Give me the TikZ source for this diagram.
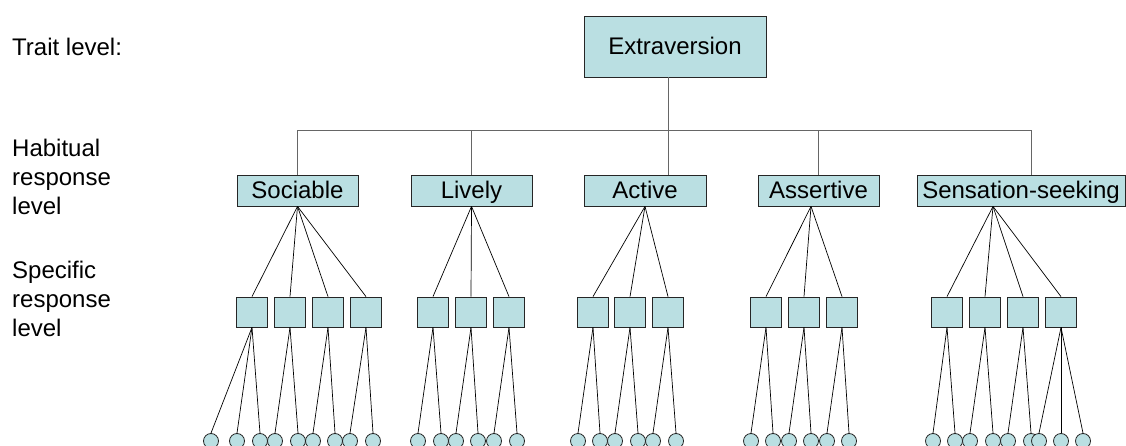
\documentclass[tikz,border=0pt]{standalone}
\usepackage{fontspec}
\setmainfont{Liberation Sans}
\usepackage{xcolor}
\usepackage{tikz}
\usetikzlibrary{positioning,calc}

\definecolor{boxfill}{RGB}{186,223,226}

\begin{document}
\begin{tikzpicture}[x=1pt, y=-1pt,
    every node/.style={font=\fontsize{24}{29}\selectfont, inner sep=0pt},
    box/.style={draw=black!85, fill=boxfill, line width=0.8pt, text height=17pt, text depth=0pt},
    sq/.style={draw=black!85, fill=boxfill, line width=0.8pt, minimum width=31pt, minimum height=30pt},
    item/.style={circle, draw=black!85, fill=boxfill, line width=0.8pt, minimum size=15pt},
    tie/.style={black, line width=0.7pt},
    bus/.style={black!60, line width=0.9pt}]
    \useasboundingbox (0,0) rectangle (1126,446);

    % Level labels
    \node[anchor=west] (trait) at (12,47) {Trait level:};
    \node[anchor=north west, align=left] (habit) at (12,139) {Habitual\\response\\level};
    \node[anchor=north west, align=left] (spec) at (12,261) {Specific\\response\\level};

    % Trait
    \node[box, minimum width=182pt, minimum height=61pt] (ext) at (675,46.5) {Extraversion};

    % Habitual responses
    \node[box, minimum width=121pt, minimum height=31pt] (soc) at (297.5,190.5) {Sociable};
    \node[box, minimum width=121pt, minimum height=31pt] (liv) at (471.5,190.5) {Lively};
    \node[box, minimum width=122pt, minimum height=31pt] (act) at (645,190.5) {Active};
    \node[box, minimum width=121pt, minimum height=31pt] (asr) at (818.5,190.5) {Assertive};
    \node[box, minimum width=208pt, minimum height=31pt] (sen) at (1021,190.5) {Sensation-seeking};

    \coordinate (ext-x) at (668,0);
    \coordinate (bus-l) at (297,130);
    \coordinate (bus-r) at (1031,130);
    \draw[bus] (soc.north) -- (soc.north |- bus-l) -- (bus-r) -- (sen.north -| bus-r);
    \draw[bus] (liv.north) -- (liv.north |- bus-l);
    \draw[bus] (asr.north) -- (asr.north |- bus-l);
    \draw[bus] (ext.south -| ext-x) -- (act.north -| ext-x);

    \coordinate (asr-h) at ([xshift=-7.5pt]asr.south);
    \coordinate (sen-h) at ([xshift=-28pt]sen.south);

    % Specific responses
    \foreach \n/\h/\x in {soc1/soc/252, soc2/soc/290, soc3/soc/328, soc4/soc/366,
                          liv1/liv/433, liv2/liv/471, liv3/liv/509,
                          act1/act/593, act2/act/630, act3/act/668,
                          asr1/asr-h/766, asr2/asr-h/804, asr3/asr-h/842,
                          sen1/sen-h/947, sen2/sen-h/985, sen3/sen-h/1023, sen4/sen-h/1061} {
        \node[sq] (\n) at (\x,312) {};
        \draw[tie] (\h.south) -- (\n.north);
    }

    % Items
    \foreach \p/\c/\x in {soc1/a/211, soc1/b/237, soc1/c/260, soc2/a/275, soc2/b/298,
                          soc3/a/313, soc3/b/335, soc4/a/350, soc4/b/373,
                          liv1/a/418, liv1/b/441, liv2/a/456, liv2/b/478, liv3/a/494, liv3/b/517,
                          act1/a/578, act1/b/600, act2/a/615, act2/b/638, act3/a/653, act3/b/676,
                          asr1/a/751, asr1/b/773, asr2/a/789, asr2/b/811, asr3/a/827, asr3/b/849,
                          sen1/a/933, sen1/b/955, sen2/a/970, sen2/b/993, sen3/a/1008, sen3/b/1031,
                          sen4/a/1039, sen4/b/1061, sen4/c/1083} {
        \node[item] (\p\c) at (\x,441) {};
        \draw[tie] (\p.south) -- (\p\c.north);
    }
\end{tikzpicture}
\end{document}
